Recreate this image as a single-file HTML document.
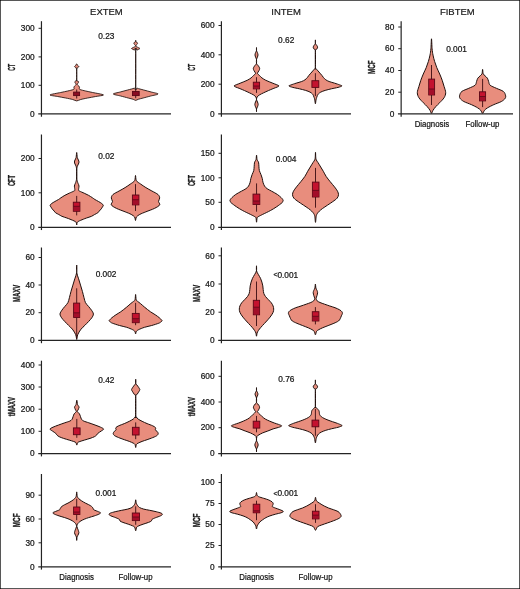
<!DOCTYPE html>
<html lang="en">
<head>
<meta charset="utf-8">
<title>ROTEM parameters: Diagnosis vs Follow-up</title>
<style>
html,body{margin:0;padding:0;background:#fff;}
body{width:520px;height:589px;overflow:hidden;font-family:"Liberation Sans",Arial,Helvetica,sans-serif;}
svg text{white-space:pre;}
</style>
</head>
<body>
<svg width="520" height="589" viewBox="0 0 520 589" style="display:block" font-family="'Liberation Sans', Arial, Helvetica, sans-serif">
<rect x="0" y="0" width="520" height="589" fill="#fff"/>
<g>
<path d="M76.70 63.80C77.02 63.80 77.35 65.05 77.70 65.50C78.05 65.95 78.90 66.23 78.90 66.60C78.90 66.97 78.05 67.42 77.70 67.80C77.35 68.18 76.89 67.05 76.73 69.00C76.57 70.95 76.54 78.08 76.73 80.00C76.92 81.92 77.58 80.68 77.90 81.00C78.22 81.32 78.70 81.65 78.70 82.00C78.70 82.35 78.12 82.78 77.90 83.20C77.68 83.62 77.17 84.15 77.30 84.60C77.43 85.05 78.35 85.58 78.70 86.00C79.05 86.42 79.40 86.78 79.50 87.20C79.60 87.62 79.19 88.22 79.30 88.60C79.41 88.98 79.18 89.22 80.20 89.60C81.22 89.98 83.70 90.54 85.70 91.00C87.70 91.46 89.87 91.88 92.70 92.50C95.53 93.12 102.92 94.26 103.40 94.90C103.88 95.54 98.21 96.00 95.70 96.50C93.19 97.00 90.10 97.52 87.70 98.00C85.30 98.48 82.46 99.04 80.70 99.50C78.94 99.96 77.98 100.90 76.70 100.90C75.42 100.90 74.46 99.96 72.70 99.50C70.94 99.04 68.10 98.48 65.70 98.00C63.30 97.52 60.21 97.00 57.70 96.50C55.19 96.00 49.52 95.54 50.00 94.90C50.48 94.26 57.87 93.12 60.70 92.50C63.53 91.88 65.70 91.46 67.70 91.00C69.70 90.54 72.18 89.98 73.20 89.60C74.22 89.22 73.99 88.98 74.10 88.60C74.21 88.22 73.80 87.62 73.90 87.20C74.00 86.78 74.35 86.42 74.70 86.00C75.05 85.58 75.97 85.05 76.10 84.60C76.23 84.15 75.72 83.62 75.50 83.20C75.28 82.78 74.70 82.35 74.70 82.00C74.70 81.65 75.18 81.32 75.50 81.00C75.82 80.68 76.48 81.92 76.67 80.00C76.86 78.08 76.83 70.95 76.67 69.00C76.51 67.05 76.05 68.18 75.70 67.80C75.35 67.42 74.50 66.97 74.50 66.60C74.50 66.23 75.35 65.95 75.70 65.50C76.05 65.05 76.38 63.80 76.70 63.80Z" fill="#E88D7D" stroke="#1f0f0c" stroke-width="0.85" stroke-linejoin="round"/>
<line x1="76.70" y1="89.50" x2="76.70" y2="98.50" stroke="#3a0b10" stroke-width="0.9"/>
<rect x="73.60" y="92.10" width="6.00" height="3.50" fill="#8a0d22" stroke="#5a0716" stroke-width="0.9"/>
<path d="M135.70 40.20C135.71 40.20 135.52 41.26 135.73 41.60C135.94 41.94 136.71 42.03 137.00 42.30C137.29 42.57 137.55 42.98 137.55 43.30C137.55 43.62 137.23 44.00 137.00 44.30C136.77 44.60 136.26 44.88 136.10 45.20C135.94 45.52 135.87 46.03 136.00 46.30C136.13 46.57 136.48 46.68 136.90 46.90C137.32 47.12 138.12 47.44 138.60 47.70C139.08 47.96 139.90 48.24 139.90 48.50C139.90 48.76 139.08 49.04 138.60 49.30C138.12 49.56 137.36 49.88 136.90 50.10C136.44 50.32 135.92 44.80 135.73 50.70C135.54 56.60 135.49 81.00 135.73 87.00C135.97 93.00 135.92 87.72 137.20 88.20C138.48 88.68 141.46 89.39 143.70 90.00C145.94 90.61 148.90 91.36 151.20 92.00C153.50 92.64 158.18 93.36 158.10 94.00C158.02 94.64 153.08 95.36 150.70 96.00C148.32 96.64 145.20 97.47 143.20 98.00C141.20 98.53 139.40 98.92 138.20 99.30C137.00 99.68 136.50 100.40 135.70 100.40C134.90 100.40 134.40 99.68 133.20 99.30C132.00 98.92 130.20 98.53 128.20 98.00C126.20 97.47 123.08 96.64 120.70 96.00C118.32 95.36 113.38 94.64 113.30 94.00C113.22 93.36 117.90 92.64 120.20 92.00C122.50 91.36 125.46 90.61 127.70 90.00C129.94 89.39 132.92 88.68 134.20 88.20C135.48 87.72 135.43 93.00 135.67 87.00C135.91 81.00 135.86 56.60 135.67 50.70C135.48 44.80 134.96 50.32 134.50 50.10C134.04 49.88 133.28 49.56 132.80 49.30C132.32 49.04 131.50 48.76 131.50 48.50C131.50 48.24 132.32 47.96 132.80 47.70C133.28 47.44 134.08 47.12 134.50 46.90C134.92 46.68 135.27 46.57 135.40 46.30C135.53 46.03 135.46 45.52 135.30 45.20C135.14 44.88 134.63 44.60 134.40 44.30C134.17 44.00 133.85 43.62 133.85 43.30C133.85 42.98 134.11 42.57 134.40 42.30C134.69 42.03 135.46 41.94 135.67 41.60C135.88 41.26 135.69 40.20 135.70 40.20Z" fill="#E88D7D" stroke="#1f0f0c" stroke-width="0.85" stroke-linejoin="round"/>
<line x1="135.70" y1="89.50" x2="135.70" y2="98.20" stroke="#3a0b10" stroke-width="0.9"/>
<rect x="132.50" y="91.50" width="6.70" height="4.10" fill="#8a0d22" stroke="#5a0716" stroke-width="0.9"/>
<line x1="41.45" y1="21.20" x2="41.45" y2="116.75" stroke="#242424" stroke-width="1.2"/>
<line x1="38.25" y1="113.95" x2="171.00" y2="113.95" stroke="#242424" stroke-width="1.25"/>
<line x1="38.55" y1="28.30" x2="41.45" y2="28.30" stroke="#242424" stroke-width="1"/>
<text x="34.65" y="31.05" font-size="8.3" fill="#151515" stroke="#151515" stroke-width="0.22" text-anchor="end">300</text>
<line x1="38.55" y1="56.90" x2="41.45" y2="56.90" stroke="#242424" stroke-width="1"/>
<text x="34.65" y="59.65" font-size="8.3" fill="#151515" stroke="#151515" stroke-width="0.22" text-anchor="end">200</text>
<line x1="38.55" y1="85.30" x2="41.45" y2="85.30" stroke="#242424" stroke-width="1"/>
<text x="34.65" y="88.05" font-size="8.3" fill="#151515" stroke="#151515" stroke-width="0.22" text-anchor="end">100</text>
<text x="34.65" y="116.70" font-size="8.3" fill="#151515" stroke="#151515" stroke-width="0.22" text-anchor="end">0</text>
<text transform="translate(15.35 67.40) rotate(-90) scale(0.05176 0.10200)" font-size="100" font-weight="bold" text-rendering="geometricPrecision" fill="#1a1a1a" stroke="#1a1a1a" stroke-width="3" text-anchor="middle">CT</text>
<text x="106.30" y="39.00" font-size="8.3" fill="#151515" stroke="#151515" stroke-width="0.22" text-anchor="middle">0.23</text>
</g>
<g>
<path d="M76.70 152.50C76.89 152.50 77.03 156.30 77.30 157.50C77.57 158.70 78.13 159.28 78.40 160.00C78.67 160.72 79.00 161.36 79.00 162.00C79.00 162.64 78.67 163.30 78.40 164.00C78.13 164.70 77.57 165.44 77.30 166.40C77.03 167.36 76.82 168.14 76.73 170.00C76.64 171.86 76.57 176.00 76.73 178.00C76.89 180.00 77.40 181.46 77.70 182.50C78.00 183.54 78.39 183.92 78.60 184.50C78.81 185.08 78.98 185.46 79.00 186.10C79.02 186.74 78.76 187.83 78.70 188.50C78.64 189.17 78.44 189.87 78.60 190.30C78.76 190.73 78.80 190.74 79.70 191.20C80.60 191.66 82.79 192.54 84.20 193.20C85.61 193.86 87.17 194.56 88.50 195.30C89.83 196.04 91.48 197.13 92.50 197.80C93.52 198.47 93.94 198.91 94.90 199.50C95.86 200.09 97.41 200.86 98.50 201.50C99.59 202.14 100.93 202.89 101.70 203.50C102.47 204.11 103.19 204.74 103.30 205.30C103.41 205.86 102.72 206.44 102.40 207.00C102.08 207.56 101.81 208.14 101.30 208.80C100.79 209.46 99.76 210.46 99.20 211.10C98.64 211.74 98.54 212.26 97.80 212.80C97.06 213.34 95.61 213.94 94.60 214.50C93.59 215.06 92.80 215.74 91.50 216.30C90.20 216.86 87.80 217.54 86.50 218.00C85.20 218.46 84.33 218.83 83.40 219.20C82.47 219.57 81.53 219.93 80.70 220.30C79.87 220.67 78.78 221.13 78.20 221.50C77.62 221.87 77.34 222.04 77.10 222.60C76.86 223.16 76.83 225.00 76.70 225.00C76.57 225.00 76.54 223.16 76.30 222.60C76.06 222.04 75.78 221.87 75.20 221.50C74.62 221.13 73.53 220.67 72.70 220.30C71.87 219.93 70.93 219.57 70.00 219.20C69.07 218.83 68.20 218.46 66.90 218.00C65.60 217.54 63.20 216.86 61.90 216.30C60.60 215.74 59.81 215.06 58.80 214.50C57.79 213.94 56.34 213.34 55.60 212.80C54.86 212.26 54.76 211.74 54.20 211.10C53.64 210.46 52.61 209.46 52.10 208.80C51.59 208.14 51.32 207.56 51.00 207.00C50.68 206.44 49.99 205.86 50.10 205.30C50.21 204.74 50.93 204.11 51.70 203.50C52.47 202.89 53.81 202.14 54.90 201.50C55.99 200.86 57.54 200.09 58.50 199.50C59.46 198.91 59.88 198.47 60.90 197.80C61.92 197.13 63.57 196.04 64.90 195.30C66.23 194.56 67.79 193.86 69.20 193.20C70.61 192.54 72.80 191.66 73.70 191.20C74.60 190.74 74.64 190.73 74.80 190.30C74.96 189.87 74.76 189.17 74.70 188.50C74.64 187.83 74.38 186.74 74.40 186.10C74.42 185.46 74.59 185.08 74.80 184.50C75.01 183.92 75.40 183.54 75.70 182.50C76.00 181.46 76.51 180.00 76.67 178.00C76.83 176.00 76.76 171.86 76.67 170.00C76.58 168.14 76.37 167.36 76.10 166.40C75.83 165.44 75.27 164.70 75.00 164.00C74.73 163.30 74.40 162.64 74.40 162.00C74.40 161.36 74.73 160.72 75.00 160.00C75.27 159.28 75.83 158.70 76.10 157.50C76.37 156.30 76.51 152.50 76.70 152.50Z" fill="#E88D7D" stroke="#1f0f0c" stroke-width="1.0" stroke-linejoin="round"/>
<line x1="76.70" y1="195.90" x2="76.70" y2="215.40" stroke="#3a0b10" stroke-width="0.9"/>
<rect x="73.30" y="202.20" width="6.60" height="9.10" fill="#C4122F" stroke="#5a0716" stroke-width="0.9"/>
<rect x="73.70" y="206.30" width="5.80" height="4.60" fill="#A30E29"/>
<line x1="73.30" y1="206.30" x2="79.90" y2="206.30" stroke="#5a0716" stroke-width="0.8"/>
<path d="M135.50 175.50C135.79 175.50 135.57 179.32 136.40 180.70C137.23 182.08 139.18 183.00 140.70 184.10C142.22 185.20 144.11 186.50 145.90 187.60C147.69 188.70 149.96 189.90 151.90 191.00C153.84 192.10 156.75 193.38 158.00 194.50C159.25 195.62 159.62 196.90 159.70 198.00C159.78 199.10 158.50 200.30 158.50 201.40C158.50 202.50 160.34 203.78 159.70 204.90C159.06 206.02 156.71 207.30 154.50 208.40C152.29 209.50 148.25 210.84 145.90 211.80C143.55 212.76 141.32 213.57 139.80 214.40C138.28 215.23 137.09 216.02 136.40 217.00C135.71 217.98 135.79 220.50 135.50 220.50C135.21 220.50 135.29 217.98 134.60 217.00C133.91 216.02 132.72 215.23 131.20 214.40C129.68 213.57 127.45 212.76 125.10 211.80C122.75 210.84 118.71 209.50 116.50 208.40C114.29 207.30 111.94 206.02 111.30 204.90C110.66 203.78 112.50 202.50 112.50 201.40C112.50 200.30 111.22 199.10 111.30 198.00C111.38 196.90 111.75 195.62 113.00 194.50C114.25 193.38 117.16 192.10 119.10 191.00C121.04 189.90 123.31 188.70 125.10 187.60C126.89 186.50 128.78 185.20 130.30 184.10C131.82 183.00 133.77 182.08 134.60 180.70C135.43 179.32 135.21 175.50 135.50 175.50Z" fill="#E88D7D" stroke="#1f0f0c" stroke-width="1.0" stroke-linejoin="round"/>
<line x1="135.50" y1="184.10" x2="135.50" y2="211.00" stroke="#3a0b10" stroke-width="0.9"/>
<rect x="132.40" y="195.00" width="6.50" height="9.90" fill="#C4122F" stroke="#5a0716" stroke-width="0.9"/>
<rect x="132.80" y="199.70" width="5.70" height="4.80" fill="#A30E29"/>
<line x1="132.40" y1="199.70" x2="138.90" y2="199.70" stroke="#5a0716" stroke-width="0.8"/>
<line x1="41.45" y1="134.50" x2="41.45" y2="230.05" stroke="#242424" stroke-width="1.2"/>
<line x1="38.25" y1="227.25" x2="171.00" y2="227.25" stroke="#242424" stroke-width="1.25"/>
<line x1="38.55" y1="158.50" x2="41.45" y2="158.50" stroke="#242424" stroke-width="1"/>
<text x="34.65" y="161.25" font-size="8.3" fill="#151515" stroke="#151515" stroke-width="0.22" text-anchor="end">200</text>
<line x1="38.55" y1="192.80" x2="41.45" y2="192.80" stroke="#242424" stroke-width="1"/>
<text x="34.65" y="195.55" font-size="8.3" fill="#151515" stroke="#151515" stroke-width="0.22" text-anchor="end">100</text>
<text x="34.65" y="230.00" font-size="8.3" fill="#151515" stroke="#151515" stroke-width="0.22" text-anchor="end">0</text>
<text transform="translate(15.30 180.50) rotate(-90) scale(0.05659 0.10200)" font-size="100" font-weight="bold" text-rendering="geometricPrecision" fill="#1a1a1a" stroke="#1a1a1a" stroke-width="3" text-anchor="middle">CFT</text>
<text x="106.30" y="159.00" font-size="8.3" fill="#151515" stroke="#151515" stroke-width="0.22" text-anchor="middle">0.02</text>
</g>
<g>
<path d="M76.70 265.00C76.71 265.00 76.43 270.39 76.73 272.60C77.03 274.81 78.00 276.80 78.60 278.80C79.20 280.80 79.89 283.08 80.50 285.10C81.11 287.12 81.84 289.38 82.40 291.40C82.96 293.42 83.50 295.89 84.00 297.70C84.50 299.51 84.76 301.29 85.50 302.70C86.24 304.11 87.64 305.30 88.60 306.50C89.56 307.70 90.73 309.00 91.50 310.20C92.27 311.40 93.35 312.78 93.40 314.00C93.45 315.22 92.57 316.60 91.80 317.80C91.03 319.00 89.70 320.30 88.60 321.50C87.50 322.70 86.10 324.08 84.90 325.30C83.70 326.52 82.11 327.88 81.10 329.10C80.09 330.32 79.21 331.80 78.60 332.90C77.99 334.00 77.60 334.94 77.30 336.00C77.00 337.06 76.89 339.50 76.70 339.50C76.51 339.50 76.40 337.06 76.10 336.00C75.80 334.94 75.41 334.00 74.80 332.90C74.19 331.80 73.31 330.32 72.30 329.10C71.29 327.88 69.70 326.52 68.50 325.30C67.30 324.08 65.90 322.70 64.80 321.50C63.70 320.30 62.37 319.00 61.60 317.80C60.83 316.60 59.95 315.22 60.00 314.00C60.05 312.78 61.13 311.40 61.90 310.20C62.67 309.00 63.84 307.70 64.80 306.50C65.76 305.30 67.16 304.11 67.90 302.70C68.64 301.29 68.90 299.51 69.40 297.70C69.90 295.89 70.44 293.42 71.00 291.40C71.56 289.38 72.29 287.12 72.90 285.10C73.51 283.08 74.20 280.80 74.80 278.80C75.40 276.80 76.37 274.81 76.67 272.60C76.97 270.39 76.69 265.00 76.70 265.00Z" fill="#E88D7D" stroke="#1f0f0c" stroke-width="1.0" stroke-linejoin="round"/>
<line x1="76.70" y1="288.30" x2="76.70" y2="338.50" stroke="#3a0b10" stroke-width="0.9"/>
<rect x="73.60" y="303.10" width="6.10" height="14.40" fill="#C4122F" stroke="#5a0716" stroke-width="0.9"/>
<rect x="74.00" y="312.80" width="5.30" height="4.30" fill="#A30E29"/>
<line x1="73.60" y1="312.80" x2="79.70" y2="312.80" stroke="#5a0716" stroke-width="0.8"/>
<path d="M135.60 294.50C135.79 294.50 135.85 298.78 136.20 299.90C136.55 301.02 137.13 300.92 137.80 301.50C138.47 302.08 139.33 302.60 140.40 303.50C141.47 304.40 142.88 305.77 144.50 307.10C146.12 308.43 148.77 310.57 150.50 311.80C152.23 313.03 153.88 313.84 155.30 314.80C156.72 315.76 158.46 317.03 159.40 317.80C160.34 318.57 160.77 319.12 161.20 319.60C161.63 320.08 162.16 320.42 162.10 320.80C162.04 321.18 161.33 321.62 160.80 322.00C160.27 322.38 160.26 322.64 158.80 323.20C157.34 323.76 153.99 324.84 151.70 325.50C149.41 326.16 146.60 326.63 144.50 327.30C142.40 327.97 139.91 329.03 138.60 329.70C137.29 330.37 136.78 330.83 136.30 331.50C135.82 332.17 135.82 333.90 135.60 333.90C135.38 333.90 135.38 332.17 134.90 331.50C134.42 330.83 133.91 330.37 132.60 329.70C131.29 329.03 128.80 327.97 126.70 327.30C124.60 326.63 121.79 326.16 119.50 325.50C117.21 324.84 113.86 323.76 112.40 323.20C110.94 322.64 110.93 322.38 110.40 322.00C109.87 321.62 109.16 321.18 109.10 320.80C109.04 320.42 109.57 320.08 110.00 319.60C110.43 319.12 110.86 318.57 111.80 317.80C112.74 317.03 114.48 315.76 115.90 314.80C117.32 313.84 118.97 313.03 120.70 311.80C122.43 310.57 125.08 308.43 126.70 307.10C128.32 305.77 129.73 304.40 130.80 303.50C131.87 302.60 132.73 302.08 133.40 301.50C134.07 300.92 134.65 301.02 135.00 299.90C135.35 298.78 135.41 294.50 135.60 294.50Z" fill="#E88D7D" stroke="#1f0f0c" stroke-width="1.0" stroke-linejoin="round"/>
<line x1="135.60" y1="302.90" x2="135.60" y2="325.20" stroke="#3a0b10" stroke-width="0.9"/>
<rect x="132.30" y="313.40" width="6.90" height="9.30" fill="#C4122F" stroke="#5a0716" stroke-width="0.9"/>
<rect x="132.70" y="318.70" width="6.10" height="3.60" fill="#A30E29"/>
<line x1="132.30" y1="318.70" x2="139.20" y2="318.70" stroke="#5a0716" stroke-width="0.8"/>
<line x1="41.45" y1="247.50" x2="41.45" y2="343.20" stroke="#242424" stroke-width="1.2"/>
<line x1="38.25" y1="340.40" x2="171.00" y2="340.40" stroke="#242424" stroke-width="1.25"/>
<line x1="38.55" y1="257.50" x2="41.45" y2="257.50" stroke="#242424" stroke-width="1"/>
<text x="34.65" y="260.25" font-size="8.3" fill="#151515" stroke="#151515" stroke-width="0.22" text-anchor="end">60</text>
<line x1="38.55" y1="285.00" x2="41.45" y2="285.00" stroke="#242424" stroke-width="1"/>
<text x="34.65" y="287.75" font-size="8.3" fill="#151515" stroke="#151515" stroke-width="0.22" text-anchor="end">40</text>
<line x1="38.55" y1="312.70" x2="41.45" y2="312.70" stroke="#242424" stroke-width="1"/>
<text x="34.65" y="315.45" font-size="8.3" fill="#151515" stroke="#151515" stroke-width="0.22" text-anchor="end">20</text>
<text x="34.65" y="343.15" font-size="8.3" fill="#151515" stroke="#151515" stroke-width="0.22" text-anchor="end">0</text>
<text transform="translate(20.25 293.40) rotate(-90) scale(0.05988 0.10200)" font-size="100" font-weight="bold" text-rendering="geometricPrecision" fill="#1a1a1a" stroke="#1a1a1a" stroke-width="3" text-anchor="middle">MAXV</text>
<text x="106.10" y="276.80" font-size="8.3" fill="#151515" stroke="#151515" stroke-width="0.22" text-anchor="middle">0.002</text>
</g>
<g>
<path d="M76.80 400.20C77.02 400.20 77.24 403.50 77.50 404.40C77.76 405.30 78.14 405.35 78.40 405.80C78.66 406.25 79.07 406.75 79.10 407.20C79.13 407.65 78.76 408.17 78.60 408.60C78.44 409.03 78.31 409.42 78.10 409.90C77.89 410.38 77.09 410.98 77.30 411.60C77.51 412.22 78.89 413.00 79.40 413.80C79.91 414.60 80.15 415.70 80.50 416.60C80.85 417.50 81.07 418.68 81.60 419.40C82.13 420.12 82.65 420.56 83.80 421.10C84.95 421.64 87.01 422.18 88.80 422.80C90.59 423.42 93.11 424.30 95.00 425.00C96.89 425.70 99.22 426.54 100.60 427.20C101.98 427.86 103.52 428.48 103.60 429.10C103.68 429.72 102.03 430.41 101.10 431.10C100.17 431.79 98.50 432.78 97.80 433.40C97.10 434.02 97.24 434.47 96.70 435.00C96.16 435.53 95.47 436.16 94.40 436.70C93.33 437.24 91.60 437.86 90.00 438.40C88.40 438.94 86.02 439.60 84.40 440.10C82.78 440.60 80.97 441.10 79.90 441.50C78.83 441.90 78.20 442.02 77.70 442.60C77.20 443.18 77.09 445.10 76.80 445.10C76.51 445.10 76.40 443.18 75.90 442.60C75.40 442.02 74.77 441.90 73.70 441.50C72.63 441.10 70.82 440.60 69.20 440.10C67.58 439.60 65.20 438.94 63.60 438.40C62.00 437.86 60.27 437.24 59.20 436.70C58.13 436.16 57.44 435.53 56.90 435.00C56.36 434.47 56.50 434.02 55.80 433.40C55.10 432.78 53.43 431.79 52.50 431.10C51.57 430.41 49.92 429.72 50.00 429.10C50.08 428.48 51.62 427.86 53.00 427.20C54.38 426.54 56.71 425.70 58.60 425.00C60.49 424.30 63.01 423.42 64.80 422.80C66.59 422.18 68.65 421.64 69.80 421.10C70.95 420.56 71.47 420.12 72.00 419.40C72.53 418.68 72.75 417.50 73.10 416.60C73.45 415.70 73.69 414.60 74.20 413.80C74.71 413.00 76.09 412.22 76.30 411.60C76.51 410.98 75.71 410.38 75.50 409.90C75.29 409.42 75.16 409.03 75.00 408.60C74.84 408.17 74.47 407.65 74.50 407.20C74.53 406.75 74.94 406.25 75.20 405.80C75.46 405.35 75.84 405.30 76.10 404.40C76.36 403.50 76.58 400.20 76.80 400.20Z" fill="#E88D7D" stroke="#1f0f0c" stroke-width="1.0" stroke-linejoin="round"/>
<line x1="76.80" y1="418.90" x2="76.80" y2="437.80" stroke="#3a0b10" stroke-width="0.9"/>
<rect x="73.40" y="427.90" width="6.70" height="6.80" fill="#C4122F" stroke="#5a0716" stroke-width="0.9"/>
<path d="M135.70 379.20C135.71 379.20 135.54 382.37 135.73 383.30C135.92 384.23 136.44 384.36 136.90 385.00C137.36 385.64 138.17 386.66 138.60 387.30C139.03 387.94 139.40 388.62 139.60 389.00C139.80 389.38 139.85 389.48 139.85 389.70C139.85 389.92 139.82 390.00 139.60 390.40C139.38 390.80 138.92 391.54 138.50 392.20C138.08 392.86 137.44 393.78 137.00 394.50C136.56 395.22 135.93 393.21 135.73 396.70C135.53 400.19 135.65 413.07 135.73 416.30C135.81 419.53 135.80 416.45 136.20 416.90C136.60 417.35 137.26 418.40 138.20 419.10C139.14 419.80 140.68 420.58 142.10 421.30C143.52 422.02 145.40 422.88 147.10 423.60C148.80 424.32 151.37 425.18 152.70 425.80C154.03 426.42 154.94 426.97 155.40 427.50C155.86 428.03 155.63 428.72 155.60 429.10C155.57 429.48 154.96 429.53 155.20 429.90C155.44 430.27 156.62 430.81 157.10 431.40C157.58 431.99 158.28 432.90 158.20 433.60C158.12 434.30 157.67 435.08 156.60 435.80C155.53 436.52 153.02 437.48 151.50 438.10C149.98 438.72 148.60 439.17 147.10 439.70C145.60 440.23 143.52 440.86 142.10 441.40C140.68 441.94 139.11 442.62 138.20 443.10C137.29 443.58 136.80 443.70 136.40 444.40C136.00 445.10 135.92 447.50 135.70 447.50C135.48 447.50 135.40 445.10 135.00 444.40C134.60 443.70 134.11 443.58 133.20 443.10C132.29 442.62 130.72 441.94 129.30 441.40C127.88 440.86 125.80 440.23 124.30 439.70C122.80 439.17 121.42 438.72 119.90 438.10C118.38 437.48 115.87 436.52 114.80 435.80C113.73 435.08 113.28 434.30 113.20 433.60C113.12 432.90 113.82 431.99 114.30 431.40C114.78 430.81 115.96 430.27 116.20 429.90C116.44 429.53 115.83 429.48 115.80 429.10C115.77 428.72 115.54 428.03 116.00 427.50C116.46 426.97 117.37 426.42 118.70 425.80C120.03 425.18 122.60 424.32 124.30 423.60C126.00 422.88 127.88 422.02 129.30 421.30C130.72 420.58 132.26 419.80 133.20 419.10C134.14 418.40 134.80 417.35 135.20 416.90C135.60 416.45 135.59 419.53 135.67 416.30C135.75 413.07 135.87 400.19 135.67 396.70C135.47 393.21 134.84 395.22 134.40 394.50C133.96 393.78 133.32 392.86 132.90 392.20C132.48 391.54 132.02 390.80 131.80 390.40C131.58 390.00 131.55 389.92 131.55 389.70C131.55 389.48 131.60 389.38 131.80 389.00C132.00 388.62 132.37 387.94 132.80 387.30C133.23 386.66 134.04 385.64 134.50 385.00C134.96 384.36 135.48 384.23 135.67 383.30C135.86 382.37 135.69 379.20 135.70 379.20Z" fill="#E88D7D" stroke="#1f0f0c" stroke-width="1.0" stroke-linejoin="round"/>
<line x1="135.70" y1="422.40" x2="135.70" y2="439.20" stroke="#3a0b10" stroke-width="0.9"/>
<rect x="132.40" y="427.30" width="6.70" height="7.70" fill="#C4122F" stroke="#5a0716" stroke-width="0.9"/>
<line x1="41.45" y1="360.70" x2="41.45" y2="456.40" stroke="#242424" stroke-width="1.2"/>
<line x1="38.25" y1="453.60" x2="171.00" y2="453.60" stroke="#242424" stroke-width="1.25"/>
<line x1="38.55" y1="365.00" x2="41.45" y2="365.00" stroke="#242424" stroke-width="1"/>
<text x="34.65" y="367.75" font-size="8.3" fill="#151515" stroke="#151515" stroke-width="0.22" text-anchor="end">400</text>
<line x1="38.55" y1="387.00" x2="41.45" y2="387.00" stroke="#242424" stroke-width="1"/>
<text x="34.65" y="389.75" font-size="8.3" fill="#151515" stroke="#151515" stroke-width="0.22" text-anchor="end">300</text>
<line x1="38.55" y1="409.20" x2="41.45" y2="409.20" stroke="#242424" stroke-width="1"/>
<text x="34.65" y="411.95" font-size="8.3" fill="#151515" stroke="#151515" stroke-width="0.22" text-anchor="end">200</text>
<line x1="38.55" y1="431.30" x2="41.45" y2="431.30" stroke="#242424" stroke-width="1"/>
<text x="34.65" y="434.05" font-size="8.3" fill="#151515" stroke="#151515" stroke-width="0.22" text-anchor="end">100</text>
<text x="34.65" y="456.35" font-size="8.3" fill="#151515" stroke="#151515" stroke-width="0.22" text-anchor="end">0</text>
<text transform="translate(15.30 406.60) rotate(-90) scale(0.06052 0.10200)" font-size="100" font-weight="bold" text-rendering="geometricPrecision" fill="#1a1a1a" stroke="#1a1a1a" stroke-width="3" text-anchor="middle">tMAXV</text>
<text x="106.30" y="383.40" font-size="8.3" fill="#151515" stroke="#151515" stroke-width="0.22" text-anchor="middle">0.42</text>
</g>
<g>
<path d="M76.70 491.90C76.88 491.90 76.93 495.33 77.25 496.40C77.57 497.47 78.02 497.90 78.70 498.60C79.38 499.30 80.43 500.08 81.50 500.80C82.57 501.52 84.25 502.48 85.40 503.10C86.55 503.72 87.72 504.17 88.70 504.70C89.68 505.23 90.81 505.86 91.50 506.40C92.19 506.94 92.70 507.62 93.00 508.10C93.30 508.58 93.10 509.05 93.40 509.40C93.70 509.75 94.21 509.98 94.90 510.30C95.59 510.62 96.80 511.00 97.70 511.40C98.60 511.80 100.32 512.35 100.50 512.80C100.68 513.25 99.79 513.70 98.80 514.20C97.81 514.70 95.92 515.36 94.30 515.90C92.68 516.44 90.30 517.07 88.70 517.60C87.10 518.13 85.55 518.67 84.30 519.20C83.05 519.73 81.80 520.36 80.90 520.90C80.00 521.44 79.26 522.07 78.70 522.60C78.14 523.13 77.69 523.58 77.40 524.20C77.11 524.82 76.79 525.60 76.90 526.50C77.01 527.40 77.83 529.03 78.10 529.80C78.37 530.57 78.47 530.85 78.60 531.30C78.73 531.75 78.92 532.17 78.90 532.60C78.88 533.03 78.68 533.55 78.50 534.00C78.32 534.45 78.04 534.90 77.80 535.40C77.56 535.90 77.18 536.30 77.00 537.10C76.82 537.90 76.80 540.40 76.70 540.40C76.60 540.40 76.58 537.90 76.40 537.10C76.22 536.30 75.84 535.90 75.60 535.40C75.36 534.90 75.08 534.45 74.90 534.00C74.72 533.55 74.52 533.03 74.50 532.60C74.48 532.17 74.67 531.75 74.80 531.30C74.93 530.85 75.03 530.57 75.30 529.80C75.57 529.03 76.39 527.40 76.50 526.50C76.61 525.60 76.29 524.82 76.00 524.20C75.71 523.58 75.26 523.13 74.70 522.60C74.14 522.07 73.40 521.44 72.50 520.90C71.60 520.36 70.35 519.73 69.10 519.20C67.85 518.67 66.30 518.13 64.70 517.60C63.10 517.07 60.72 516.44 59.10 515.90C57.48 515.36 55.59 514.70 54.60 514.20C53.61 513.70 52.72 513.25 52.90 512.80C53.08 512.35 54.80 511.80 55.70 511.40C56.60 511.00 57.81 510.62 58.50 510.30C59.19 509.98 59.70 509.75 60.00 509.40C60.30 509.05 60.10 508.58 60.40 508.10C60.70 507.62 61.21 506.94 61.90 506.40C62.59 505.86 63.72 505.23 64.70 504.70C65.68 504.17 66.85 503.72 68.00 503.10C69.15 502.48 70.83 501.52 71.90 500.80C72.97 500.08 74.02 499.30 74.70 498.60C75.38 497.90 75.83 497.47 76.15 496.40C76.47 495.33 76.52 491.90 76.70 491.90Z" fill="#E88D7D" stroke="#1f0f0c" stroke-width="1.0" stroke-linejoin="round"/>
<line x1="76.70" y1="498.80" x2="76.70" y2="520.20" stroke="#3a0b10" stroke-width="0.9"/>
<rect x="73.60" y="507.00" width="6.30" height="7.50" fill="#C4122F" stroke="#5a0716" stroke-width="0.9"/>
<rect x="74.00" y="512.00" width="5.50" height="2.10" fill="#A30E29"/>
<line x1="73.60" y1="512.00" x2="79.90" y2="512.00" stroke="#5a0716" stroke-width="0.8"/>
<path d="M135.70 499.80C135.89 499.80 135.98 502.36 136.30 503.30C136.62 504.24 137.19 505.03 137.70 505.70C138.21 506.37 138.54 506.96 139.50 507.50C140.46 508.04 142.07 508.65 143.70 509.10C145.33 509.55 147.70 509.88 149.70 510.30C151.70 510.72 154.39 511.25 156.20 511.70C158.01 512.15 160.01 512.67 161.00 513.10C161.99 513.53 162.50 513.95 162.40 514.40C162.30 514.85 161.49 515.37 160.40 515.90C159.31 516.43 156.94 517.14 155.60 517.70C154.26 518.26 152.67 518.87 152.00 519.40C151.33 519.93 151.96 520.52 151.40 521.00C150.84 521.48 149.83 521.89 148.50 522.40C147.17 522.91 144.64 523.66 143.10 524.20C141.56 524.74 139.92 525.32 138.90 525.80C137.88 526.28 137.21 526.40 136.70 527.20C136.19 528.00 136.02 530.80 135.70 530.80C135.38 530.80 135.21 528.00 134.70 527.20C134.19 526.40 133.52 526.28 132.50 525.80C131.48 525.32 129.84 524.74 128.30 524.20C126.76 523.66 124.23 522.91 122.90 522.40C121.57 521.89 120.56 521.48 120.00 521.00C119.44 520.52 120.07 519.93 119.40 519.40C118.73 518.87 117.14 518.26 115.80 517.70C114.46 517.14 112.09 516.43 111.00 515.90C109.91 515.37 109.10 514.85 109.00 514.40C108.90 513.95 109.41 513.53 110.40 513.10C111.39 512.67 113.39 512.15 115.20 511.70C117.01 511.25 119.70 510.72 121.70 510.30C123.70 509.88 126.07 509.55 127.70 509.10C129.33 508.65 130.94 508.04 131.90 507.50C132.86 506.96 133.19 506.37 133.70 505.70C134.21 505.03 134.78 504.24 135.10 503.30C135.42 502.36 135.51 499.80 135.70 499.80Z" fill="#E88D7D" stroke="#1f0f0c" stroke-width="1.0" stroke-linejoin="round"/>
<line x1="135.70" y1="506.30" x2="135.70" y2="524.80" stroke="#3a0b10" stroke-width="0.9"/>
<rect x="132.30" y="513.00" width="7.20" height="7.60" fill="#C4122F" stroke="#5a0716" stroke-width="0.9"/>
<rect x="132.70" y="517.00" width="6.40" height="3.20" fill="#A30E29"/>
<line x1="132.30" y1="517.00" x2="139.50" y2="517.00" stroke="#5a0716" stroke-width="0.8"/>
<line x1="41.45" y1="474.00" x2="41.45" y2="569.60" stroke="#242424" stroke-width="1.2"/>
<line x1="38.25" y1="566.80" x2="171.00" y2="566.80" stroke="#242424" stroke-width="1.25"/>
<line x1="38.55" y1="495.20" x2="41.45" y2="495.20" stroke="#242424" stroke-width="1"/>
<text x="34.65" y="497.95" font-size="8.3" fill="#151515" stroke="#151515" stroke-width="0.22" text-anchor="end">90</text>
<line x1="38.55" y1="519.00" x2="41.45" y2="519.00" stroke="#242424" stroke-width="1"/>
<text x="34.65" y="521.75" font-size="8.3" fill="#151515" stroke="#151515" stroke-width="0.22" text-anchor="end">60</text>
<line x1="38.55" y1="542.80" x2="41.45" y2="542.80" stroke="#242424" stroke-width="1"/>
<text x="34.65" y="545.55" font-size="8.3" fill="#151515" stroke="#151515" stroke-width="0.22" text-anchor="end">30</text>
<text x="34.65" y="569.55" font-size="8.3" fill="#151515" stroke="#151515" stroke-width="0.22" text-anchor="end">0</text>
<text transform="translate(20.25 520.30) rotate(-90) scale(0.06371 0.10200)" font-size="100" font-weight="bold" text-rendering="geometricPrecision" fill="#1a1a1a" stroke="#1a1a1a" stroke-width="3" text-anchor="middle">MCF</text>
<text x="105.90" y="495.60" font-size="8.3" fill="#151515" stroke="#151515" stroke-width="0.22" text-anchor="middle">0.001</text>
<text transform="translate(76.60 580.20) scale(0.9515 1)" font-size="8.25" fill="#151515" stroke="#151515" stroke-width="0.22" text-anchor="middle">Diagnosis</text>
<text transform="translate(135.50 580.20) scale(0.9515 1)" font-size="8.25" fill="#151515" stroke="#151515" stroke-width="0.22" text-anchor="middle">Follow-up</text>
</g>
<g>
<path d="M256.50 47.50C256.51 47.50 256.39 49.68 256.53 50.50C256.67 51.32 257.16 51.90 257.40 52.60C257.64 53.30 258.00 54.16 258.00 54.90C258.00 55.64 257.64 56.46 257.40 57.20C257.16 57.94 256.67 58.51 256.53 59.50C256.39 60.49 256.33 62.49 256.53 63.40C256.73 64.31 257.40 64.66 257.80 65.20C258.20 65.74 258.70 66.24 259.00 66.80C259.30 67.36 259.68 68.12 259.70 68.70C259.72 69.28 259.36 69.87 259.10 70.40C258.84 70.93 258.36 71.47 258.10 72.00C257.84 72.53 257.28 73.14 257.50 73.70C257.72 74.26 258.80 74.83 259.50 75.50C260.20 76.17 260.89 77.13 261.90 77.90C262.91 78.67 264.54 79.64 265.80 80.30C267.06 80.96 268.44 81.44 269.80 82.00C271.16 82.56 273.02 83.29 274.30 83.80C275.58 84.31 277.05 84.85 277.80 85.20C278.55 85.55 279.08 85.71 279.00 86.00C278.92 86.29 278.24 86.58 277.30 87.00C276.36 87.42 274.52 88.02 273.10 88.60C271.68 89.18 269.92 89.93 268.40 90.60C266.88 91.27 265.02 92.11 263.60 92.80C262.18 93.49 260.52 94.24 259.50 94.90C258.48 95.56 257.68 96.16 257.20 96.90C256.72 97.64 256.48 98.68 256.53 99.50C256.58 100.32 257.24 101.22 257.50 102.00C257.76 102.78 258.15 103.63 258.15 104.40C258.15 105.17 257.76 106.06 257.50 106.80C257.24 107.54 256.69 108.20 256.53 109.00C256.37 109.80 256.51 111.80 256.50 111.80C256.49 111.80 256.63 109.80 256.47 109.00C256.31 108.20 255.76 107.54 255.50 106.80C255.24 106.06 254.85 105.17 254.85 104.40C254.85 103.63 255.24 102.78 255.50 102.00C255.76 101.22 256.42 100.32 256.47 99.50C256.52 98.68 256.28 97.64 255.80 96.90C255.32 96.16 254.52 95.56 253.50 94.90C252.48 94.24 250.82 93.49 249.40 92.80C247.98 92.11 246.12 91.27 244.60 90.60C243.08 89.93 241.32 89.18 239.90 88.60C238.48 88.02 236.64 87.42 235.70 87.00C234.76 86.58 234.08 86.29 234.00 86.00C233.92 85.71 234.45 85.55 235.20 85.20C235.95 84.85 237.42 84.31 238.70 83.80C239.98 83.29 241.84 82.56 243.20 82.00C244.56 81.44 245.94 80.96 247.20 80.30C248.46 79.64 250.09 78.67 251.10 77.90C252.11 77.13 252.80 76.17 253.50 75.50C254.20 74.83 255.28 74.26 255.50 73.70C255.72 73.14 255.16 72.53 254.90 72.00C254.64 71.47 254.16 70.93 253.90 70.40C253.64 69.87 253.28 69.28 253.30 68.70C253.32 68.12 253.70 67.36 254.00 66.80C254.30 66.24 254.80 65.74 255.20 65.20C255.60 64.66 256.27 64.31 256.47 63.40C256.67 62.49 256.61 60.49 256.47 59.50C256.33 58.51 255.84 57.94 255.60 57.20C255.36 56.46 255.00 55.64 255.00 54.90C255.00 54.16 255.36 53.30 255.60 52.60C255.84 51.90 256.33 51.32 256.47 50.50C256.61 49.68 256.49 47.50 256.50 47.50Z" fill="#E88D7D" stroke="#1f0f0c" stroke-width="1.0" stroke-linejoin="round"/>
<line x1="256.50" y1="77.20" x2="256.50" y2="92.90" stroke="#3a0b10" stroke-width="0.9"/>
<rect x="253.30" y="82.20" width="6.30" height="6.70" fill="#C4122F" stroke="#5a0716" stroke-width="0.9"/>
<rect x="253.70" y="86.00" width="5.50" height="2.50" fill="#A30E29"/>
<line x1="253.30" y1="86.00" x2="259.60" y2="86.00" stroke="#5a0716" stroke-width="0.8"/>
<path d="M315.40 39.90C315.41 39.90 315.22 42.54 315.43 43.40C315.64 44.26 316.35 44.69 316.70 45.30C317.05 45.91 317.60 46.58 317.60 47.20C317.60 47.82 317.05 48.56 316.70 49.20C316.35 49.84 315.63 48.22 315.43 51.20C315.23 54.18 315.34 65.00 315.43 67.80C315.52 70.60 315.59 68.20 316.00 68.70C316.41 69.20 317.36 70.18 318.00 70.90C318.64 71.62 319.38 72.48 320.00 73.20C320.62 73.92 321.34 74.70 321.90 75.40C322.46 76.10 322.88 76.90 323.50 77.60C324.12 78.30 324.90 79.18 325.80 79.80C326.70 80.42 327.68 80.96 329.10 81.50C330.52 82.04 333.00 82.66 334.70 83.20C336.40 83.74 338.55 84.45 339.70 84.90C340.85 85.35 342.17 85.60 341.90 86.00C341.63 86.40 339.68 86.95 338.00 87.40C336.32 87.85 333.45 88.32 331.40 88.80C329.35 89.28 326.90 89.87 325.20 90.40C323.50 90.93 321.87 91.56 320.80 92.10C319.73 92.64 319.04 93.26 318.50 93.80C317.96 94.34 317.70 94.88 317.40 95.50C317.10 96.12 316.82 97.00 316.60 97.70C316.38 98.40 316.19 98.92 316.00 99.90C315.81 100.88 315.59 103.80 315.40 103.80C315.21 103.80 314.99 100.88 314.80 99.90C314.61 98.92 314.42 98.40 314.20 97.70C313.98 97.00 313.70 96.12 313.40 95.50C313.10 94.88 312.84 94.34 312.30 93.80C311.76 93.26 311.07 92.64 310.00 92.10C308.93 91.56 307.30 90.93 305.60 90.40C303.90 89.87 301.45 89.28 299.40 88.80C297.35 88.32 294.48 87.85 292.80 87.40C291.12 86.95 289.17 86.40 288.90 86.00C288.63 85.60 289.95 85.35 291.10 84.90C292.25 84.45 294.40 83.74 296.10 83.20C297.80 82.66 300.28 82.04 301.70 81.50C303.12 80.96 304.10 80.42 305.00 79.80C305.90 79.18 306.68 78.30 307.30 77.60C307.92 76.90 308.34 76.10 308.90 75.40C309.46 74.70 310.18 73.92 310.80 73.20C311.42 72.48 312.16 71.62 312.80 70.90C313.44 70.18 314.39 69.20 314.80 68.70C315.21 68.20 315.28 70.60 315.37 67.80C315.46 65.00 315.57 54.18 315.37 51.20C315.17 48.22 314.45 49.84 314.10 49.20C313.75 48.56 313.20 47.82 313.20 47.20C313.20 46.58 313.75 45.91 314.10 45.30C314.45 44.69 315.16 44.26 315.37 43.40C315.58 42.54 315.39 39.90 315.40 39.90Z" fill="#E88D7D" stroke="#1f0f0c" stroke-width="1.0" stroke-linejoin="round"/>
<line x1="315.40" y1="73.20" x2="315.40" y2="96.00" stroke="#3a0b10" stroke-width="0.9"/>
<rect x="311.90" y="80.70" width="6.90" height="6.70" fill="#C4122F" stroke="#5a0716" stroke-width="0.9"/>
<line x1="221.40" y1="21.20" x2="221.40" y2="116.75" stroke="#242424" stroke-width="1.2"/>
<line x1="218.20" y1="113.95" x2="351.00" y2="113.95" stroke="#242424" stroke-width="1.25"/>
<line x1="218.50" y1="25.50" x2="221.40" y2="25.50" stroke="#242424" stroke-width="1"/>
<text x="214.60" y="28.25" font-size="8.3" fill="#151515" stroke="#151515" stroke-width="0.22" text-anchor="end">600</text>
<line x1="218.50" y1="54.80" x2="221.40" y2="54.80" stroke="#242424" stroke-width="1"/>
<text x="214.60" y="57.55" font-size="8.3" fill="#151515" stroke="#151515" stroke-width="0.22" text-anchor="end">400</text>
<line x1="218.50" y1="84.20" x2="221.40" y2="84.20" stroke="#242424" stroke-width="1"/>
<text x="214.60" y="86.95" font-size="8.3" fill="#151515" stroke="#151515" stroke-width="0.22" text-anchor="end">200</text>
<text x="214.60" y="116.70" font-size="8.3" fill="#151515" stroke="#151515" stroke-width="0.22" text-anchor="end">0</text>
<text transform="translate(195.45 67.40) rotate(-90) scale(0.05176 0.10200)" font-size="100" font-weight="bold" text-rendering="geometricPrecision" fill="#1a1a1a" stroke="#1a1a1a" stroke-width="3" text-anchor="middle">CT</text>
<text x="286.20" y="42.80" font-size="8.3" fill="#151515" stroke="#151515" stroke-width="0.22" text-anchor="middle">0.62</text>
</g>
<g>
<path d="M256.55 155.10C256.71 155.10 256.79 158.48 257.05 159.50C257.31 160.52 257.89 160.94 258.15 161.50C258.41 162.06 258.52 162.15 258.65 163.00C258.78 163.85 258.84 165.58 258.95 166.80C259.06 168.02 259.03 169.37 259.35 170.60C259.67 171.83 260.49 173.25 260.95 174.50C261.41 175.75 261.93 177.17 262.25 178.40C262.57 179.63 262.58 180.97 262.95 182.20C263.32 183.43 263.88 185.06 264.55 186.10C265.22 187.14 266.01 187.88 267.15 188.70C268.29 189.52 270.00 190.27 271.65 191.20C273.30 192.13 275.91 193.46 277.45 194.50C278.99 195.54 280.43 196.95 281.25 197.70C282.07 198.45 282.25 198.77 282.55 199.20C282.85 199.63 283.12 200.02 283.15 200.40C283.18 200.78 282.94 201.22 282.75 201.60C282.56 201.98 282.91 201.98 281.95 202.80C280.99 203.62 278.61 205.45 276.75 206.70C274.89 207.95 272.61 209.37 270.35 210.60C268.09 211.83 264.51 213.47 262.65 214.40C260.79 215.33 259.63 215.87 258.75 216.40C257.87 216.93 257.50 216.77 257.15 217.70C256.80 218.63 256.74 222.20 256.55 222.20C256.36 222.20 256.30 218.63 255.95 217.70C255.60 216.77 255.23 216.93 254.35 216.40C253.47 215.87 252.31 215.33 250.45 214.40C248.59 213.47 245.01 211.83 242.75 210.60C240.49 209.37 238.21 207.95 236.35 206.70C234.49 205.45 232.11 203.62 231.15 202.80C230.19 201.98 230.54 201.98 230.35 201.60C230.16 201.22 229.92 200.78 229.95 200.40C229.98 200.02 230.25 199.63 230.55 199.20C230.85 198.77 231.03 198.45 231.85 197.70C232.67 196.95 234.11 195.54 235.65 194.50C237.19 193.46 239.80 192.13 241.45 191.20C243.10 190.27 244.81 189.52 245.95 188.70C247.09 187.88 247.88 187.14 248.55 186.10C249.22 185.06 249.78 183.43 250.15 182.20C250.52 180.97 250.53 179.63 250.85 178.40C251.17 177.17 251.69 175.75 252.15 174.50C252.61 173.25 253.43 171.83 253.75 170.60C254.07 169.37 254.04 168.02 254.15 166.80C254.26 165.58 254.32 163.85 254.45 163.00C254.58 162.15 254.69 162.06 254.95 161.50C255.21 160.94 255.79 160.52 256.05 159.50C256.31 158.48 256.39 155.10 256.55 155.10Z" fill="#E88D7D" stroke="#1f0f0c" stroke-width="1.0" stroke-linejoin="round"/>
<line x1="256.55" y1="183.40" x2="256.55" y2="211.70" stroke="#3a0b10" stroke-width="0.9"/>
<rect x="253.00" y="194.10" width="6.80" height="10.40" fill="#C4122F" stroke="#5a0716" stroke-width="0.9"/>
<rect x="253.40" y="201.00" width="6.00" height="3.10" fill="#A30E29"/>
<line x1="253.00" y1="201.00" x2="259.80" y2="201.00" stroke="#5a0716" stroke-width="0.8"/>
<path d="M315.50 152.30C315.66 152.30 315.58 157.54 316.00 159.20C316.42 160.86 317.35 161.45 318.10 162.70C318.85 163.95 319.87 165.62 320.70 167.00C321.53 168.38 322.42 169.78 323.30 171.30C324.18 172.82 325.10 174.84 326.20 176.50C327.30 178.16 328.87 180.04 330.20 181.70C331.53 183.36 333.33 185.38 334.50 186.90C335.67 188.42 336.86 189.95 337.50 191.20C338.14 192.45 338.56 193.58 338.50 194.70C338.44 195.82 338.01 197.10 337.10 198.20C336.19 199.30 334.32 200.50 332.80 201.60C331.28 202.70 329.26 203.98 327.60 205.10C325.94 206.22 323.73 207.62 322.40 208.60C321.07 209.58 320.13 210.38 319.30 211.20C318.47 212.02 317.70 212.88 317.20 213.70C316.70 214.52 316.47 214.91 316.20 216.30C315.93 217.69 315.72 222.40 315.50 222.40C315.28 222.40 315.07 217.69 314.80 216.30C314.53 214.91 314.30 214.52 313.80 213.70C313.30 212.88 312.53 212.02 311.70 211.20C310.87 210.38 309.93 209.58 308.60 208.60C307.27 207.62 305.06 206.22 303.40 205.10C301.74 203.98 299.72 202.70 298.20 201.60C296.68 200.50 294.81 199.30 293.90 198.20C292.99 197.10 292.56 195.82 292.50 194.70C292.44 193.58 292.86 192.45 293.50 191.20C294.14 189.95 295.33 188.42 296.50 186.90C297.67 185.38 299.47 183.36 300.80 181.70C302.13 180.04 303.70 178.16 304.80 176.50C305.90 174.84 306.82 172.82 307.70 171.30C308.58 169.78 309.47 168.38 310.30 167.00C311.13 165.62 312.15 163.95 312.90 162.70C313.65 161.45 314.58 160.86 315.00 159.20C315.42 157.54 315.34 152.30 315.50 152.30Z" fill="#E88D7D" stroke="#1f0f0c" stroke-width="1.0" stroke-linejoin="round"/>
<line x1="315.50" y1="167.90" x2="315.50" y2="207.70" stroke="#3a0b10" stroke-width="0.9"/>
<rect x="312.40" y="182.10" width="6.60" height="14.90" fill="#C4122F" stroke="#5a0716" stroke-width="0.9"/>
<rect x="312.80" y="190.40" width="5.80" height="6.20" fill="#A30E29"/>
<line x1="312.40" y1="190.40" x2="319.00" y2="190.40" stroke="#5a0716" stroke-width="0.8"/>
<line x1="221.40" y1="134.50" x2="221.40" y2="230.05" stroke="#242424" stroke-width="1.2"/>
<line x1="218.20" y1="227.25" x2="351.00" y2="227.25" stroke="#242424" stroke-width="1.25"/>
<line x1="218.50" y1="153.30" x2="221.40" y2="153.30" stroke="#242424" stroke-width="1"/>
<text x="214.60" y="156.05" font-size="8.3" fill="#151515" stroke="#151515" stroke-width="0.22" text-anchor="end">150</text>
<line x1="218.50" y1="177.80" x2="221.40" y2="177.80" stroke="#242424" stroke-width="1"/>
<text x="214.60" y="180.55" font-size="8.3" fill="#151515" stroke="#151515" stroke-width="0.22" text-anchor="end">100</text>
<line x1="218.50" y1="202.30" x2="221.40" y2="202.30" stroke="#242424" stroke-width="1"/>
<text x="214.60" y="205.05" font-size="8.3" fill="#151515" stroke="#151515" stroke-width="0.22" text-anchor="end">50</text>
<text x="214.60" y="230.00" font-size="8.3" fill="#151515" stroke="#151515" stroke-width="0.22" text-anchor="end">0</text>
<text transform="translate(195.45 180.50) rotate(-90) scale(0.05659 0.10200)" font-size="100" font-weight="bold" text-rendering="geometricPrecision" fill="#1a1a1a" stroke="#1a1a1a" stroke-width="3" text-anchor="middle">CFT</text>
<text x="286.10" y="161.70" font-size="8.3" fill="#151515" stroke="#151515" stroke-width="0.22" text-anchor="middle">0.004</text>
</g>
<g>
<path d="M256.50 265.80C256.51 265.80 256.23 269.39 256.53 270.80C256.83 272.21 257.76 273.40 258.40 274.60C259.04 275.80 259.94 277.10 260.50 278.30C261.06 279.50 261.53 280.88 261.90 282.10C262.27 283.32 262.59 284.70 262.80 285.90C263.01 287.10 263.04 288.40 263.20 289.60C263.36 290.80 263.43 292.30 263.80 293.40C264.17 294.50 264.76 295.49 265.50 296.50C266.24 297.51 267.47 298.69 268.40 299.70C269.33 300.71 270.55 301.79 271.30 302.80C272.05 303.81 272.72 304.99 273.10 306.00C273.48 307.01 273.70 308.09 273.70 309.10C273.70 310.11 273.55 311.20 273.10 312.30C272.65 313.40 271.75 314.80 270.90 316.00C270.05 317.20 268.86 318.58 267.80 319.80C266.74 321.02 265.40 322.40 264.30 323.60C263.20 324.80 261.84 326.20 260.90 327.30C259.96 328.40 259.01 329.59 258.40 330.50C257.79 331.41 257.40 332.09 257.10 333.00C256.80 333.91 256.69 336.20 256.50 336.20C256.31 336.20 256.20 333.91 255.90 333.00C255.60 332.09 255.21 331.41 254.60 330.50C253.99 329.59 253.04 328.40 252.10 327.30C251.16 326.20 249.80 324.80 248.70 323.60C247.60 322.40 246.26 321.02 245.20 319.80C244.14 318.58 242.95 317.20 242.10 316.00C241.25 314.80 240.35 313.40 239.90 312.30C239.45 311.20 239.30 310.11 239.30 309.10C239.30 308.09 239.52 307.01 239.90 306.00C240.28 304.99 240.95 303.81 241.70 302.80C242.45 301.79 243.67 300.71 244.60 299.70C245.53 298.69 246.76 297.51 247.50 296.50C248.24 295.49 248.83 294.50 249.20 293.40C249.57 292.30 249.64 290.80 249.80 289.60C249.96 288.40 249.99 287.10 250.20 285.90C250.41 284.70 250.73 283.32 251.10 282.10C251.47 280.88 251.94 279.50 252.50 278.30C253.06 277.10 253.96 275.80 254.60 274.60C255.24 273.40 256.17 272.21 256.47 270.80C256.77 269.39 256.49 265.80 256.50 265.80Z" fill="#E88D7D" stroke="#1f0f0c" stroke-width="1.0" stroke-linejoin="round"/>
<line x1="256.50" y1="281.50" x2="256.50" y2="326.00" stroke="#3a0b10" stroke-width="0.9"/>
<rect x="253.30" y="300.30" width="6.30" height="14.50" fill="#C4122F" stroke="#5a0716" stroke-width="0.9"/>
<rect x="253.70" y="307.20" width="5.50" height="7.20" fill="#A30E29"/>
<line x1="253.30" y1="307.20" x2="259.60" y2="307.20" stroke="#5a0716" stroke-width="0.8"/>
<path d="M315.40 284.00C315.56 284.00 315.64 287.08 315.90 288.10C316.16 289.12 316.73 289.66 317.00 290.40C317.27 291.14 317.60 291.87 317.60 292.70C317.60 293.53 317.24 294.67 317.00 295.60C316.76 296.53 316.08 297.67 316.10 298.50C316.12 299.33 316.48 300.16 317.10 300.80C317.72 301.44 318.80 301.96 320.00 302.50C321.20 303.04 323.03 303.64 324.60 304.20C326.17 304.76 328.14 305.44 329.80 306.00C331.46 306.56 333.43 307.09 335.00 307.70C336.57 308.31 338.50 309.16 339.60 309.80C340.70 310.44 341.45 311.11 341.90 311.70C342.35 312.29 342.48 312.84 342.40 313.50C342.32 314.16 341.75 314.97 341.40 315.80C341.05 316.63 340.66 317.87 340.20 318.70C339.74 319.53 339.51 320.26 338.50 321.00C337.49 321.74 335.56 322.56 333.90 323.30C332.24 324.04 329.96 324.86 328.10 325.60C326.24 326.34 323.77 327.26 322.30 327.90C320.83 328.54 319.81 329.06 318.90 329.60C317.99 330.14 317.16 330.47 316.60 331.30C316.04 332.13 315.78 334.80 315.40 334.80C315.02 334.80 314.76 332.13 314.20 331.30C313.64 330.47 312.81 330.14 311.90 329.60C310.99 329.06 309.97 328.54 308.50 327.90C307.03 327.26 304.56 326.34 302.70 325.60C300.84 324.86 298.56 324.04 296.90 323.30C295.24 322.56 293.31 321.74 292.30 321.00C291.29 320.26 291.06 319.53 290.60 318.70C290.14 317.87 289.75 316.63 289.40 315.80C289.05 314.97 288.48 314.16 288.40 313.50C288.32 312.84 288.45 312.29 288.90 311.70C289.35 311.11 290.10 310.44 291.20 309.80C292.30 309.16 294.23 308.31 295.80 307.70C297.37 307.09 299.34 306.56 301.00 306.00C302.66 305.44 304.63 304.76 306.20 304.20C307.77 303.64 309.60 303.04 310.80 302.50C312.00 301.96 313.08 301.44 313.70 300.80C314.32 300.16 314.68 299.33 314.70 298.50C314.72 297.67 314.04 296.53 313.80 295.60C313.56 294.67 313.20 293.53 313.20 292.70C313.20 291.87 313.53 291.14 313.80 290.40C314.07 289.66 314.64 289.12 314.90 288.10C315.16 287.08 315.24 284.00 315.40 284.00Z" fill="#E88D7D" stroke="#1f0f0c" stroke-width="1.0" stroke-linejoin="round"/>
<line x1="315.40" y1="307.10" x2="315.40" y2="324.40" stroke="#3a0b10" stroke-width="0.9"/>
<rect x="312.30" y="311.70" width="6.60" height="9.30" fill="#C4122F" stroke="#5a0716" stroke-width="0.9"/>
<rect x="312.70" y="316.30" width="5.80" height="4.30" fill="#A30E29"/>
<line x1="312.30" y1="316.30" x2="318.90" y2="316.30" stroke="#5a0716" stroke-width="0.8"/>
<line x1="221.40" y1="247.50" x2="221.40" y2="343.20" stroke="#242424" stroke-width="1.2"/>
<line x1="218.20" y1="340.40" x2="351.00" y2="340.40" stroke="#242424" stroke-width="1.25"/>
<line x1="218.50" y1="255.80" x2="221.40" y2="255.80" stroke="#242424" stroke-width="1"/>
<text x="214.60" y="258.55" font-size="8.3" fill="#151515" stroke="#151515" stroke-width="0.22" text-anchor="end">60</text>
<line x1="218.50" y1="284.00" x2="221.40" y2="284.00" stroke="#242424" stroke-width="1"/>
<text x="214.60" y="286.75" font-size="8.3" fill="#151515" stroke="#151515" stroke-width="0.22" text-anchor="end">40</text>
<line x1="218.50" y1="312.20" x2="221.40" y2="312.20" stroke="#242424" stroke-width="1"/>
<text x="214.60" y="314.95" font-size="8.3" fill="#151515" stroke="#151515" stroke-width="0.22" text-anchor="end">20</text>
<text x="214.60" y="343.15" font-size="8.3" fill="#151515" stroke="#151515" stroke-width="0.22" text-anchor="end">0</text>
<text transform="translate(200.15 293.40) rotate(-90) scale(0.05988 0.10200)" font-size="100" font-weight="bold" text-rendering="geometricPrecision" fill="#1a1a1a" stroke="#1a1a1a" stroke-width="3" text-anchor="middle">MAXV</text>
<text x="285.90" y="277.70" font-size="8.3" fill="#151515" stroke="#151515" stroke-width="0.22" text-anchor="middle"><tspan font-size="7" dy="-0.3">&lt;</tspan><tspan dy="0.3" dx="-0.3">0</tspan>.001</text>
</g>
<g>
<path d="M256.50 387.60C256.51 387.60 256.39 389.75 256.53 390.50C256.67 391.25 257.17 391.72 257.40 392.30C257.63 392.88 257.95 393.51 257.95 394.10C257.95 394.69 257.63 395.38 257.40 396.00C257.17 396.62 256.67 396.98 256.53 398.00C256.39 399.02 256.33 401.44 256.53 402.40C256.73 403.36 257.40 403.49 257.80 404.00C258.20 404.51 258.71 405.09 259.00 405.60C259.29 406.11 259.58 406.69 259.60 407.20C259.62 407.71 259.36 408.22 259.10 408.80C258.84 409.38 258.27 410.30 258.00 410.80C257.73 411.30 257.11 411.34 257.40 411.90C257.69 412.46 259.03 413.53 259.80 414.30C260.57 415.07 261.30 415.93 262.20 416.70C263.10 417.47 264.22 418.40 265.40 419.10C266.58 419.80 268.18 420.48 269.60 421.10C271.02 421.72 272.88 422.47 274.30 423.00C275.72 423.53 277.32 423.94 278.50 424.40C279.68 424.86 281.70 425.42 281.70 425.90C281.70 426.38 279.88 426.92 278.50 427.40C277.12 427.88 274.81 428.32 273.10 428.90C271.39 429.48 269.51 430.34 267.80 431.00C266.09 431.66 263.82 432.38 262.40 433.00C260.98 433.62 259.76 434.37 258.90 434.90C258.04 435.43 257.38 435.44 257.00 436.30C256.62 437.16 256.45 439.29 256.53 440.30C256.61 441.31 257.24 441.86 257.50 442.60C257.76 443.34 258.15 444.18 258.15 444.90C258.15 445.62 257.76 446.41 257.50 447.10C257.24 447.79 256.69 448.42 256.53 449.20C256.37 449.98 256.51 452.00 256.50 452.00C256.49 452.00 256.63 449.98 256.47 449.20C256.31 448.42 255.76 447.79 255.50 447.10C255.24 446.41 254.85 445.62 254.85 444.90C254.85 444.18 255.24 443.34 255.50 442.60C255.76 441.86 256.39 441.31 256.47 440.30C256.55 439.29 256.38 437.16 256.00 436.30C255.62 435.44 254.96 435.43 254.10 434.90C253.24 434.37 252.02 433.62 250.60 433.00C249.18 432.38 246.91 431.66 245.20 431.00C243.49 430.34 241.61 429.48 239.90 428.90C238.19 428.32 235.88 427.88 234.50 427.40C233.12 426.92 231.30 426.38 231.30 425.90C231.30 425.42 233.32 424.86 234.50 424.40C235.68 423.94 237.28 423.53 238.70 423.00C240.12 422.47 241.98 421.72 243.40 421.10C244.82 420.48 246.42 419.80 247.60 419.10C248.78 418.40 249.90 417.47 250.80 416.70C251.70 415.93 252.43 415.07 253.20 414.30C253.97 413.53 255.31 412.46 255.60 411.90C255.89 411.34 255.27 411.30 255.00 410.80C254.73 410.30 254.16 409.38 253.90 408.80C253.64 408.22 253.38 407.71 253.40 407.20C253.42 406.69 253.71 406.11 254.00 405.60C254.29 405.09 254.80 404.51 255.20 404.00C255.60 403.49 256.27 403.36 256.47 402.40C256.67 401.44 256.61 399.02 256.47 398.00C256.33 396.98 255.83 396.62 255.60 396.00C255.37 395.38 255.05 394.69 255.05 394.10C255.05 393.51 255.37 392.88 255.60 392.30C255.83 391.72 256.33 391.25 256.47 390.50C256.61 389.75 256.49 387.60 256.50 387.60Z" fill="#E88D7D" stroke="#1f0f0c" stroke-width="1.0" stroke-linejoin="round"/>
<line x1="256.50" y1="415.90" x2="256.50" y2="432.30" stroke="#3a0b10" stroke-width="0.9"/>
<rect x="253.20" y="421.20" width="6.60" height="6.90" fill="#C4122F" stroke="#5a0716" stroke-width="0.9"/>
<path d="M315.40 379.90C315.41 379.90 315.22 382.57 315.43 383.40C315.64 384.23 316.35 384.56 316.70 385.10C317.05 385.64 317.60 386.26 317.60 386.80C317.60 387.34 317.05 387.94 316.70 388.50C316.35 389.06 315.63 387.44 315.43 390.30C315.23 393.16 315.37 403.70 315.43 406.40C315.49 409.10 315.48 406.80 315.80 407.20C316.12 407.60 316.90 408.36 317.40 408.90C317.90 409.44 318.60 410.06 318.90 410.60C319.20 411.14 319.19 411.68 319.30 412.30C319.41 412.92 319.28 413.80 319.60 414.50C319.92 415.20 320.58 416.08 321.30 416.70C322.02 417.32 323.03 417.86 324.10 418.40C325.17 418.94 326.66 419.57 328.00 420.10C329.34 420.63 330.98 421.17 332.50 421.70C334.02 422.23 336.08 422.86 337.50 423.40C338.92 423.94 340.70 424.70 341.40 425.10C342.10 425.50 342.44 425.55 341.90 425.90C341.36 426.25 339.68 426.84 338.00 427.30C336.32 427.76 333.35 428.32 331.40 428.80C329.45 429.28 327.42 429.77 325.80 430.30C324.18 430.83 322.47 431.51 321.30 432.10C320.13 432.69 319.17 433.34 318.50 434.00C317.83 434.66 317.47 435.48 317.10 436.20C316.73 436.92 316.47 437.43 316.20 438.50C315.93 439.57 315.66 442.90 315.40 442.90C315.14 442.90 314.87 439.57 314.60 438.50C314.33 437.43 314.07 436.92 313.70 436.20C313.33 435.48 312.97 434.66 312.30 434.00C311.63 433.34 310.67 432.69 309.50 432.10C308.33 431.51 306.62 430.83 305.00 430.30C303.38 429.77 301.35 429.28 299.40 428.80C297.45 428.32 294.48 427.76 292.80 427.30C291.12 426.84 289.44 426.25 288.90 425.90C288.36 425.55 288.70 425.50 289.40 425.10C290.10 424.70 291.88 423.94 293.30 423.40C294.72 422.86 296.78 422.23 298.30 421.70C299.82 421.17 301.46 420.63 302.80 420.10C304.14 419.57 305.63 418.94 306.70 418.40C307.77 417.86 308.78 417.32 309.50 416.70C310.22 416.08 310.88 415.20 311.20 414.50C311.52 413.80 311.39 412.92 311.50 412.30C311.61 411.68 311.60 411.14 311.90 410.60C312.20 410.06 312.90 409.44 313.40 408.90C313.90 408.36 314.68 407.60 315.00 407.20C315.32 406.80 315.31 409.10 315.37 406.40C315.43 403.70 315.57 393.16 315.37 390.30C315.17 387.44 314.45 389.06 314.10 388.50C313.75 387.94 313.20 387.34 313.20 386.80C313.20 386.26 313.75 385.64 314.10 385.10C314.45 384.56 315.16 384.23 315.37 383.40C315.58 382.57 315.39 379.90 315.40 379.90Z" fill="#E88D7D" stroke="#1f0f0c" stroke-width="1.0" stroke-linejoin="round"/>
<line x1="315.40" y1="409.00" x2="315.40" y2="435.80" stroke="#3a0b10" stroke-width="0.9"/>
<rect x="312.00" y="420.10" width="6.80" height="6.70" fill="#C4122F" stroke="#5a0716" stroke-width="0.9"/>
<line x1="221.40" y1="360.70" x2="221.40" y2="456.40" stroke="#242424" stroke-width="1.2"/>
<line x1="218.20" y1="453.60" x2="351.00" y2="453.60" stroke="#242424" stroke-width="1.25"/>
<line x1="218.50" y1="376.30" x2="221.40" y2="376.30" stroke="#242424" stroke-width="1"/>
<text x="214.60" y="379.05" font-size="8.3" fill="#151515" stroke="#151515" stroke-width="0.22" text-anchor="end">600</text>
<line x1="218.50" y1="402.00" x2="221.40" y2="402.00" stroke="#242424" stroke-width="1"/>
<text x="214.60" y="404.75" font-size="8.3" fill="#151515" stroke="#151515" stroke-width="0.22" text-anchor="end">400</text>
<line x1="218.50" y1="427.70" x2="221.40" y2="427.70" stroke="#242424" stroke-width="1"/>
<text x="214.60" y="430.45" font-size="8.3" fill="#151515" stroke="#151515" stroke-width="0.22" text-anchor="end">200</text>
<text x="214.60" y="456.35" font-size="8.3" fill="#151515" stroke="#151515" stroke-width="0.22" text-anchor="end">0</text>
<text transform="translate(195.45 406.60) rotate(-90) scale(0.06052 0.10200)" font-size="100" font-weight="bold" text-rendering="geometricPrecision" fill="#1a1a1a" stroke="#1a1a1a" stroke-width="3" text-anchor="middle">tMAXV</text>
<text x="286.30" y="382.10" font-size="8.3" fill="#151515" stroke="#151515" stroke-width="0.22" text-anchor="middle">0.76</text>
</g>
<g>
<path d="M256.50 492.50C256.69 492.50 256.75 494.53 257.10 495.20C257.45 495.87 257.64 496.20 258.70 496.70C259.76 497.20 262.08 497.77 263.70 498.30C265.32 498.83 267.46 499.42 268.80 500.00C270.14 500.58 271.40 501.32 272.10 501.90C272.80 502.48 273.10 503.06 273.20 503.60C273.30 504.14 272.83 504.80 272.70 505.30C272.57 505.80 271.95 506.25 272.40 506.70C272.85 507.15 274.30 507.62 275.50 508.10C276.70 508.58 278.65 509.17 279.90 509.70C281.15 510.23 283.12 510.90 283.30 511.40C283.48 511.90 282.25 512.35 281.00 512.80C279.75 513.25 277.28 513.70 275.50 514.20C273.72 514.70 271.42 515.36 269.90 515.90C268.38 516.44 267.17 516.98 266.00 517.60C264.83 518.22 263.59 519.10 262.60 519.80C261.61 520.50 260.50 521.30 259.80 522.00C259.10 522.70 258.62 523.58 258.20 524.20C257.78 524.82 257.47 525.13 257.20 525.90C256.93 526.67 256.72 529.00 256.50 529.00C256.28 529.00 256.07 526.67 255.80 525.90C255.53 525.13 255.22 524.82 254.80 524.20C254.38 523.58 253.90 522.70 253.20 522.00C252.50 521.30 251.39 520.50 250.40 519.80C249.41 519.10 248.17 518.22 247.00 517.60C245.83 516.98 244.62 516.44 243.10 515.90C241.58 515.36 239.28 514.70 237.50 514.20C235.72 513.70 233.25 513.25 232.00 512.80C230.75 512.35 229.52 511.90 229.70 511.40C229.88 510.90 231.85 510.23 233.10 509.70C234.35 509.17 236.30 508.58 237.50 508.10C238.70 507.62 240.15 507.15 240.60 506.70C241.05 506.25 240.43 505.80 240.30 505.30C240.17 504.80 239.70 504.14 239.80 503.60C239.90 503.06 240.20 502.48 240.90 501.90C241.60 501.32 242.86 500.58 244.20 500.00C245.54 499.42 247.68 498.83 249.30 498.30C250.92 497.77 253.24 497.20 254.30 496.70C255.36 496.20 255.55 495.87 255.90 495.20C256.25 494.53 256.31 492.50 256.50 492.50Z" fill="#E88D7D" stroke="#1f0f0c" stroke-width="1.0" stroke-linejoin="round"/>
<line x1="256.50" y1="500.70" x2="256.50" y2="520.20" stroke="#3a0b10" stroke-width="0.9"/>
<rect x="253.20" y="504.20" width="6.60" height="8.60" fill="#C4122F" stroke="#5a0716" stroke-width="0.9"/>
<rect x="253.60" y="510.80" width="5.80" height="1.60" fill="#A30E29"/>
<line x1="253.20" y1="510.80" x2="259.80" y2="510.80" stroke="#5a0716" stroke-width="0.8"/>
<path d="M315.50 497.30C315.79 497.30 315.71 499.82 316.40 500.80C317.09 501.78 318.55 502.57 319.80 503.40C321.05 504.23 322.81 505.26 324.20 506.00C325.59 506.74 326.98 507.39 328.50 508.00C330.02 508.61 332.18 509.24 333.70 509.80C335.22 510.36 336.96 510.88 338.00 511.50C339.04 512.12 339.70 512.93 340.20 513.70C340.70 514.47 341.31 515.55 341.10 516.30C340.89 517.05 340.08 517.70 338.90 518.40C337.72 519.10 335.51 519.98 333.70 520.70C331.89 521.42 329.54 522.21 327.60 522.90C325.66 523.59 323.20 524.39 321.60 525.00C320.00 525.61 318.58 525.87 317.60 526.70C316.62 527.53 316.17 530.20 315.50 530.20C314.83 530.20 314.38 527.53 313.40 526.70C312.42 525.87 311.00 525.61 309.40 525.00C307.80 524.39 305.34 523.59 303.40 522.90C301.46 522.21 299.11 521.42 297.30 520.70C295.49 519.98 293.28 519.10 292.10 518.40C290.92 517.70 290.11 517.05 289.90 516.30C289.69 515.55 290.30 514.47 290.80 513.70C291.30 512.93 291.96 512.12 293.00 511.50C294.04 510.88 295.78 510.36 297.30 509.80C298.82 509.24 300.98 508.61 302.50 508.00C304.02 507.39 305.41 506.74 306.80 506.00C308.19 505.26 309.95 504.23 311.20 503.40C312.45 502.57 313.91 501.78 314.60 500.80C315.29 499.82 315.21 497.30 315.50 497.30Z" fill="#E88D7D" stroke="#1f0f0c" stroke-width="1.0" stroke-linejoin="round"/>
<line x1="315.50" y1="504.20" x2="315.50" y2="522.90" stroke="#3a0b10" stroke-width="0.9"/>
<rect x="312.40" y="511.20" width="6.60" height="7.70" fill="#C4122F" stroke="#5a0716" stroke-width="0.9"/>
<rect x="312.80" y="515.10" width="5.80" height="3.40" fill="#A30E29"/>
<line x1="312.40" y1="515.10" x2="319.00" y2="515.10" stroke="#5a0716" stroke-width="0.8"/>
<line x1="221.40" y1="474.00" x2="221.40" y2="569.60" stroke="#242424" stroke-width="1.2"/>
<line x1="218.20" y1="566.80" x2="351.00" y2="566.80" stroke="#242424" stroke-width="1.25"/>
<line x1="218.50" y1="482.50" x2="221.40" y2="482.50" stroke="#242424" stroke-width="1"/>
<text x="214.60" y="485.25" font-size="8.3" fill="#151515" stroke="#151515" stroke-width="0.22" text-anchor="end">100</text>
<line x1="218.50" y1="503.50" x2="221.40" y2="503.50" stroke="#242424" stroke-width="1"/>
<text x="214.60" y="506.25" font-size="8.3" fill="#151515" stroke="#151515" stroke-width="0.22" text-anchor="end">75</text>
<line x1="218.50" y1="524.50" x2="221.40" y2="524.50" stroke="#242424" stroke-width="1"/>
<text x="214.60" y="527.25" font-size="8.3" fill="#151515" stroke="#151515" stroke-width="0.22" text-anchor="end">50</text>
<line x1="218.50" y1="545.50" x2="221.40" y2="545.50" stroke="#242424" stroke-width="1"/>
<text x="214.60" y="548.25" font-size="8.3" fill="#151515" stroke="#151515" stroke-width="0.22" text-anchor="end">25</text>
<text x="214.60" y="569.55" font-size="8.3" fill="#151515" stroke="#151515" stroke-width="0.22" text-anchor="end">0</text>
<text transform="translate(200.00 520.40) rotate(-90) scale(0.06371 0.10200)" font-size="100" font-weight="bold" text-rendering="geometricPrecision" fill="#1a1a1a" stroke="#1a1a1a" stroke-width="3" text-anchor="middle">MCF</text>
<text x="285.90" y="495.80" font-size="8.3" fill="#151515" stroke="#151515" stroke-width="0.22" text-anchor="middle"><tspan font-size="7" dy="-0.3">&lt;</tspan><tspan dy="0.3" dx="-0.3">0</tspan>.001</text>
<text transform="translate(256.60 580.20) scale(0.9515 1)" font-size="8.25" fill="#151515" stroke="#151515" stroke-width="0.22" text-anchor="middle">Diagnosis</text>
<text transform="translate(315.50 580.20) scale(0.9515 1)" font-size="8.25" fill="#151515" stroke="#151515" stroke-width="0.22" text-anchor="middle">Follow-up</text>
</g>
<g>
<path d="M431.50 38.80C431.69 38.80 431.86 46.19 432.10 48.80C432.34 51.41 432.60 53.08 433.00 55.10C433.40 57.12 433.99 59.38 434.60 61.40C435.21 63.42 435.98 65.68 436.80 67.70C437.62 69.72 438.84 71.98 439.70 74.00C440.56 76.02 441.50 78.30 442.20 80.30C442.90 82.30 443.54 84.52 444.10 86.50C444.66 88.48 445.70 90.91 445.70 92.70C445.70 94.49 445.06 96.10 444.10 97.70C443.14 99.30 441.01 101.29 439.70 102.70C438.39 104.11 436.97 105.28 435.90 106.50C434.83 107.72 433.70 109.20 433.00 110.30C432.30 111.40 431.98 113.40 431.50 113.40C431.02 113.40 430.70 111.40 430.00 110.30C429.30 109.20 428.17 107.72 427.10 106.50C426.03 105.28 424.61 104.11 423.30 102.70C421.99 101.29 419.86 99.30 418.90 97.70C417.94 96.10 417.30 94.49 417.30 92.70C417.30 90.91 418.34 88.48 418.90 86.50C419.46 84.52 420.10 82.30 420.80 80.30C421.50 78.30 422.44 76.02 423.30 74.00C424.16 71.98 425.38 69.72 426.20 67.70C427.02 65.68 427.79 63.42 428.40 61.40C429.01 59.38 429.60 57.12 430.00 55.10C430.40 53.08 430.66 51.41 430.90 48.80C431.14 46.19 431.31 38.80 431.50 38.80Z" fill="#E88D7D" stroke="#1f0f0c" stroke-width="1.0" stroke-linejoin="round"/>
<line x1="431.50" y1="65.00" x2="431.50" y2="105.00" stroke="#3a0b10" stroke-width="0.9"/>
<rect x="428.70" y="79.10" width="5.90" height="15.90" fill="#C4122F" stroke="#5a0716" stroke-width="0.9"/>
<rect x="429.10" y="89.00" width="5.10" height="5.60" fill="#A30E29"/>
<line x1="428.70" y1="89.00" x2="434.60" y2="89.00" stroke="#5a0716" stroke-width="0.8"/>
<path d="M482.60 69.40C482.79 69.40 482.83 72.79 483.20 73.80C483.57 74.81 484.23 75.00 484.90 75.70C485.57 76.40 486.81 77.29 487.40 78.20C487.99 79.11 488.17 80.28 488.60 81.40C489.03 82.52 488.85 84.10 490.10 85.20C491.35 86.30 494.29 87.31 496.40 88.30C498.51 89.29 501.84 90.30 503.30 91.40C504.76 92.50 505.20 94.10 505.50 95.20C505.80 96.30 505.86 97.29 505.20 98.30C504.54 99.31 503.21 100.49 501.40 101.50C499.59 102.51 496.11 103.59 493.90 104.60C491.69 105.61 489.10 106.89 487.60 107.80C486.10 108.71 485.30 109.40 484.50 110.30C483.70 111.20 483.21 113.40 482.60 113.40C481.99 113.40 481.50 111.20 480.70 110.30C479.90 109.40 479.10 108.71 477.60 107.80C476.10 106.89 473.51 105.61 471.30 104.60C469.09 103.59 465.61 102.51 463.80 101.50C461.99 100.49 460.66 99.31 460.00 98.30C459.34 97.29 459.40 96.30 459.70 95.20C460.00 94.10 460.44 92.50 461.90 91.40C463.36 90.30 466.69 89.29 468.80 88.30C470.91 87.31 473.85 86.30 475.10 85.20C476.35 84.10 476.17 82.52 476.60 81.40C477.03 80.28 477.21 79.11 477.80 78.20C478.39 77.29 479.63 76.40 480.30 75.70C480.97 75.00 481.63 74.81 482.00 73.80C482.37 72.79 482.41 69.40 482.60 69.40Z" fill="#E88D7D" stroke="#1f0f0c" stroke-width="1.0" stroke-linejoin="round"/>
<line x1="482.60" y1="78.90" x2="482.60" y2="107.10" stroke="#3a0b10" stroke-width="0.9"/>
<rect x="479.50" y="91.80" width="6.10" height="9.10" fill="#C4122F" stroke="#5a0716" stroke-width="0.9"/>
<rect x="479.90" y="96.50" width="5.30" height="4.00" fill="#A30E29"/>
<line x1="479.50" y1="96.50" x2="485.60" y2="96.50" stroke="#5a0716" stroke-width="0.8"/>
<line x1="401.15" y1="21.20" x2="401.15" y2="116.75" stroke="#242424" stroke-width="1.2"/>
<line x1="397.95" y1="113.95" x2="513.00" y2="113.95" stroke="#242424" stroke-width="1.25"/>
<line x1="398.25" y1="27.00" x2="401.15" y2="27.00" stroke="#242424" stroke-width="1"/>
<text x="394.35" y="29.75" font-size="8.3" fill="#151515" stroke="#151515" stroke-width="0.22" text-anchor="end">80</text>
<line x1="398.25" y1="48.70" x2="401.15" y2="48.70" stroke="#242424" stroke-width="1"/>
<text x="394.35" y="51.45" font-size="8.3" fill="#151515" stroke="#151515" stroke-width="0.22" text-anchor="end">60</text>
<line x1="398.25" y1="70.50" x2="401.15" y2="70.50" stroke="#242424" stroke-width="1"/>
<text x="394.35" y="73.25" font-size="8.3" fill="#151515" stroke="#151515" stroke-width="0.22" text-anchor="end">40</text>
<line x1="398.25" y1="92.20" x2="401.15" y2="92.20" stroke="#242424" stroke-width="1"/>
<text x="394.35" y="94.95" font-size="8.3" fill="#151515" stroke="#151515" stroke-width="0.22" text-anchor="end">20</text>
<text x="394.35" y="116.70" font-size="8.3" fill="#151515" stroke="#151515" stroke-width="0.22" text-anchor="end">0</text>
<text transform="translate(375.25 67.30) rotate(-90) scale(0.06232 0.10200)" font-size="100" font-weight="bold" text-rendering="geometricPrecision" fill="#1a1a1a" stroke="#1a1a1a" stroke-width="3" text-anchor="middle">MCF</text>
<text x="456.60" y="52.00" font-size="8.3" fill="#151515" stroke="#151515" stroke-width="0.22" text-anchor="middle">0.001</text>
<text transform="translate(431.90 127.00) scale(0.9515 1)" font-size="8.25" fill="#151515" stroke="#151515" stroke-width="0.22" text-anchor="middle">Diagnosis</text>
<text transform="translate(482.40 127.00) scale(0.9515 1)" font-size="8.25" fill="#151515" stroke="#151515" stroke-width="0.22" text-anchor="middle">Follow-up</text>
</g>
<text transform="translate(106.40 15.30) scale(0.97 1)" font-size="9.8" fill="#1a1a1a" stroke="#1a1a1a" stroke-width="0.2" text-anchor="middle">EXTEM</text>
<text transform="translate(286.10 15.30) scale(0.97 1)" font-size="9.8" fill="#1a1a1a" stroke="#1a1a1a" stroke-width="0.2" text-anchor="middle">INTEM</text>
<text transform="translate(457.30 15.30) scale(0.97 1)" font-size="9.8" fill="#1a1a1a" stroke="#1a1a1a" stroke-width="0.2" text-anchor="middle">FIBTEM</text>
<g fill="#000" fill-opacity="0.66"><rect x="0" y="0" width="520" height="1"/><rect x="0" y="588" width="520" height="1"/><rect x="0" y="0" width="1" height="589"/><rect x="519" y="0" width="1" height="589"/></g>
</svg>
</body>
</html>
